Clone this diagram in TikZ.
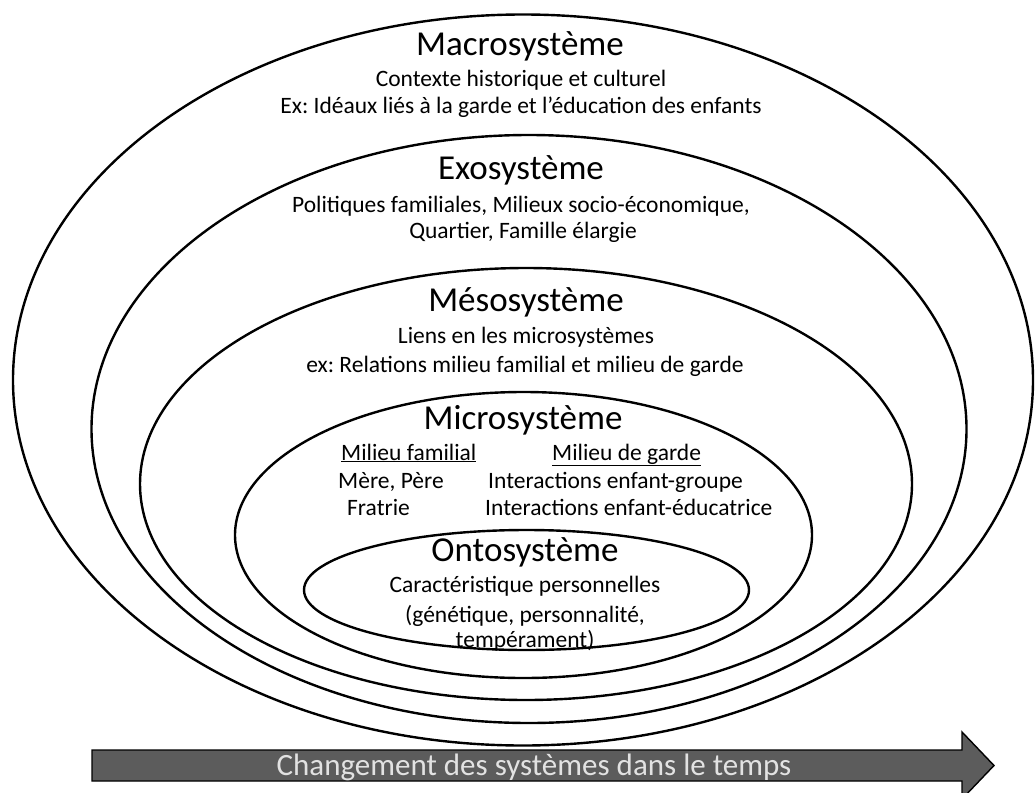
\documentclass[tikz,border=0pt]{standalone}
\usepackage{fontspec}
\setmainfont{Carlito}
\usetikzlibrary{shapes.geometric}
\definecolor{arrowgray}{HTML}{5C5C5C}
\definecolor{arrowtext}{HTML}{E2E2E2}
\begin{document}
\frenchspacing
\begin{tikzpicture}[x=1pt,y=-1pt,
  ring/.style={draw=black,line width=2.4pt,ellipse,inner sep=0pt},
  heading/.style={font=\fontsize{35}{40}\selectfont,anchor=base,inner sep=0pt},
  body/.style={font=\fontsize{23.5}{28}\selectfont,anchor=base,inner sep=0pt},
  bodyw/.style={font=\fontsize{23.5}{28}\selectfont,anchor=base west,inner sep=0pt},
  timearrow/.style={draw=black,line width=1.4pt,fill=arrowgray,line join=miter},
]
\useasboundingbox (0,0) rectangle (1035,792);
\fill[white] (0,0) rectangle (1035,792);

% nested systems
\node[ring,minimum width=1020pt,minimum height=731pt] (macro) at (523,380) {};
\node[ring,minimum width=875pt,minimum height=588pt] (exo) at (529,429) {};
\node[ring,minimum width=772pt,minimum height=432pt] (meso) at (526,484) {};
\node[ring,minimum width=577pt,minimum height=286pt] (micro) at (523.5,535) {};
\node[ring,minimum width=445pt,minimum height=120pt] (onto) at (526.5,590) {};

% Macrosystème
\node[heading] (macroT) at (520,56) {Macrosystème};
\node[body] (macroA) at (521,86) {Contexte historique et culturel};
\node[body] (macroB) at (521,113) {Ex: Idéaux liés à la garde et l’éducation des enfants};

% Exosystème
\node[heading] (exoT) at (521,179) {Exosystème};
\node[body] (exoA) at (521,212) {Politiques familiales, Milieux socio-économique,};
\node[body] (exoB) at (523,238) {Quartier, Famille élargie};

% Mésosystème
\node[heading] (mesoT) at (526,311) {Mésosystème};
\node[body] (mesoA) at (526,343) {Liens en les microsystèmes};
\node[body] (mesoB) at (525,372) {ex: Relations milieu familial et milieu de garde};

% Microsystème
\node[heading] (microT) at (523,429) {Microsystème};
\node[bodyw] (famT) at (341,460) {\underline{Milieu familial}};
\node[bodyw] (gardeT) at (552,460) {\underline{Milieu de garde}};
\node[bodyw] (famA) at (338,488) {Mère, Père};
\node[bodyw] (famB) at (347,515) {Fratrie};
\node[bodyw] (gardeA) at (488,488) {Interactions enfant-groupe};
\node[bodyw] (gardeB) at (485,515) {Interactions enfant-éducatrice};

% Ontosystème
\node[heading] (ontoT) at (525,561) {Ontosystème};
\node[body] (ontoA) at (525,592) {Caractéristique personnelles};
\node[body] (ontoB) at (525,622) {(génétique, personnalité,};
\node[body] (ontoC) at (525,647) {tempérament)};

% time arrow
\draw[timearrow] (92,750) -- (962,750) -- (962,732) -- (994,765.5)
  -- (962,799) -- (962,781) -- (92,781) -- cycle;
\node[font=\fontsize{31}{36}\selectfont,text=arrowtext,anchor=base,inner sep=0pt]
  (timeT) at (534,775) {Changement des systèmes dans le temps};
\end{tikzpicture}
\end{document}
